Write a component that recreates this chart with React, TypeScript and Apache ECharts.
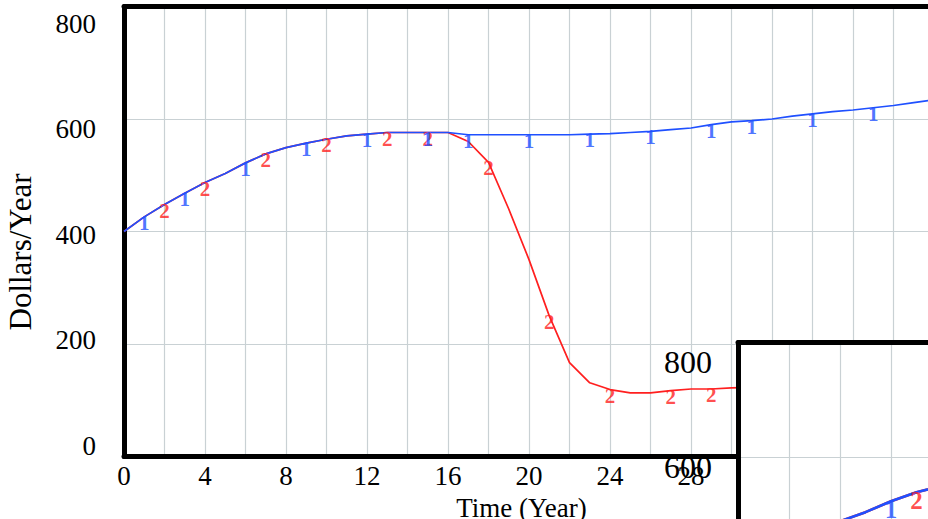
import React, { useEffect, useRef } from 'react';
import * as echarts from 'echarts';

// ---- data ----
const years = [
  0, 1, 2, 3, 4, 5, 6, 7, 8, 9, 10, 11, 12, 13, 14, 15, 16, 17, 18, 19, 20,
  21, 22, 23, 24, 25, 26, 27, 28, 29, 30, 31, 32, 33, 34, 35, 36, 37, 38, 39, 40,
];
const blueValues = [
  400, 426, 448, 468, 487, 503, 522, 538, 549, 557, 564, 570, 573, 576, 576, 576, 576,
  572, 572, 572, 572, 572, 572, 573, 574, 576, 578, 581, 584, 590, 595, 597, 600, 605,
  609, 613, 616, 620, 624, 629, 634,
];
const redValues = [
  400, 426, 448, 468, 487, 503, 522, 538, 549, 557, 564, 570, 573, 576, 576, 576, 576,
  560, 523, 440, 350, 250, 167, 131, 119, 113, 113, 117, 120, 120, 122, 123,
];
const blueMarkerYears = [1, 3, 6, 9, 12, 15, 17, 20, 23, 26, 29, 31, 34, 37];
const redMarkerYears = [2, 4, 7, 10, 13, 15, 18, 21, 24, 27, 29];
const yTickLabels = [0, 200, 400, 600, 800];
const xName = 'Time (Year)';
const yName = 'Dollars/Year';

const FONT = 'Liberation Serif';
const GRID_COLOR = '#c9d1d4';
const BLUE = '#1f50ff';
const RED = '#ff1f1f';

function lineSeries(values: number[], color: string, xi: number, yi: number, width: number, z: number) {
  return {
    type: 'line',
    xAxisIndex: xi,
    yAxisIndex: yi,
    data: values.map((v, i) => [years[i], v]),
    symbol: 'none',
    lineStyle: { color, width },
    itemStyle: { color },
    silent: true,
    z,
  };
}

function markerSeries(
  marks: number[], values: number[], text: string, color: string,
  xi: number, yi: number, fontSize: number, offsetY: number, z: number,
) {
  return {
    type: 'scatter',
    xAxisIndex: xi,
    yAxisIndex: yi,
    data: marks.map((t) => [t, values[years.indexOf(t)]]),
    symbol: 'circle',
    symbolSize: 1,
    itemStyle: { color: 'rgba(0,0,0,0)' },
    label: {
      show: true,
      position: 'inside',
      formatter: text,
      color,
      fontFamily: FONT,
      fontWeight: 'bold',
      fontSize,
      offset: [0, offsetY],
    },
    silent: true,
    z,
  };
}

function borderAxis(gridIndex: number, position: string, z: number) {
  return {
    gridIndex,
    type: 'value',
    min: 0,
    max: 40,
    position,
    z,
    axisLine: { show: true, onZero: false, lineStyle: { color: '#000', width: 5 } },
    axisTick: { show: false },
    axisLabel: { show: false },
    splitLine: { show: false },
  };
}

export default function App() {
  const ref = useRef<HTMLDivElement>(null);
  useEffect(() => {
    if (!ref.current) return;
    const chart = echarts.init(ref.current, null, { renderer: 'svg' });
    const gridLine = { show: true, lineStyle: { color: GRID_COLOR, width: 1.2 } };
    const option: any = {
      animation: false,
      backgroundColor: '#fff',
      textStyle: { fontFamily: FONT },
      grid: [
        { left: 124, top: 6.5, width: 810, height: 450, show: false, containLabel: false, outerBoundsMode: 'none' },
        {
          left: 738, top: 342.5, width: 1020, height: 457, show: true,
          backgroundColor: '#fff', borderWidth: 0, z: 10, containLabel: false, outerBoundsMode: 'none',
        },
      ],
      xAxis: [
        {
          gridIndex: 0, type: 'value', min: 0, max: 40, interval: 4, position: 'bottom',
          axisLine: { show: true, onZero: false, lineStyle: { color: '#000', width: 5 } },
          axisTick: { show: false },
          axisLabel: { fontFamily: FONT, fontSize: 27, color: '#000', margin: 6 },
          splitLine: gridLine,
          minorTick: { show: false, splitNumber: 2 },
          minorSplitLine: gridLine,
          name: xName, nameLocation: 'middle', nameGap: 27,
          nameTextStyle: { fontFamily: FONT, fontSize: 27, color: '#000', padding: [0, 15, 0, 0] },
        },
        borderAxis(0, 'top', 1),
        {
          gridIndex: 1, type: 'value', min: 0, max: 40, interval: 4, position: 'bottom', z: 11,
          axisLine: { show: true, onZero: false, lineStyle: { color: '#000', width: 5 } },
          axisTick: { show: false },
          axisLabel: { fontFamily: FONT, fontSize: 32, color: '#000', margin: 8 },
          splitLine: gridLine,
          minorTick: { show: false, splitNumber: 2 },
          minorSplitLine: gridLine,
        },
        borderAxis(1, 'top', 11),
      ],
      yAxis: [
        {
          gridIndex: 0, type: 'value', min: 0, max: 800, interval: 200, position: 'left',
          axisLine: { show: true, onZero: false, lineStyle: { color: '#000', width: 5 } },
          axisTick: { show: false },
          axisLabel: { show: false },
          splitLine: gridLine,
          name: yName, nameLocation: 'middle', nameRotate: 90, nameGap: 88,
          nameTextStyle: { fontFamily: FONT, fontSize: 31, color: '#000', padding: [0, 41, 0, 0] },
        },
        {
          gridIndex: 0, type: 'value', min: -19.9, max: 832.2, position: 'left',
          axisLine: { show: false }, axisTick: { show: false }, splitLine: { show: false },
          axisLabel: {
            customValues: yTickLabels, fontFamily: FONT, fontSize: 27,
            color: '#000', margin: 28,
          },
        },
        {
          gridIndex: 1, type: 'value', min: 0, max: 800, interval: 200, position: 'left', z: 11,
          axisLine: { show: true, onZero: false, lineStyle: { color: '#000', width: 5 } },
          axisTick: { show: false },
          axisLabel: { show: false },
          splitLine: gridLine,
        },
        {
          gridIndex: 1, type: 'value', min: -36.4, max: 838.2, position: 'left', z: 11,
          axisLine: { show: false }, axisTick: { show: false }, splitLine: { show: false },
          axisLabel: {
            customValues: yTickLabels, fontFamily: FONT, fontSize: 32, color: '#000', margin: 26,
          },
        },
      ],
      series: [
        lineSeries(redValues, RED, 0, 0, 1.7, 2),
        lineSeries(blueValues, BLUE, 0, 0, 1.7, 3),
        markerSeries(redMarkerYears, redValues, '2', RED, 0, 0, 21, 6, 4),
        markerSeries(blueMarkerYears, blueValues, '1', BLUE, 0, 0, 21, 6, 5),
        lineSeries(redValues, RED, 2, 2, 2.6, 12),
        lineSeries(blueValues, BLUE, 2, 2, 2.6, 13),
        markerSeries(redMarkerYears, redValues, '2', RED, 2, 2, 25, 8, 14),
        markerSeries(blueMarkerYears, blueValues, '1', BLUE, 2, 2, 25, 8, 15),
      ],
    };
    chart.setOption(option);
    return () => chart.dispose();
  }, []);
  return (
    <div
      ref={ref}
      style={{ position: 'fixed', left: 0, top: 0, width: 928, height: 519, background: '#fff' }}
    />
  );
}
